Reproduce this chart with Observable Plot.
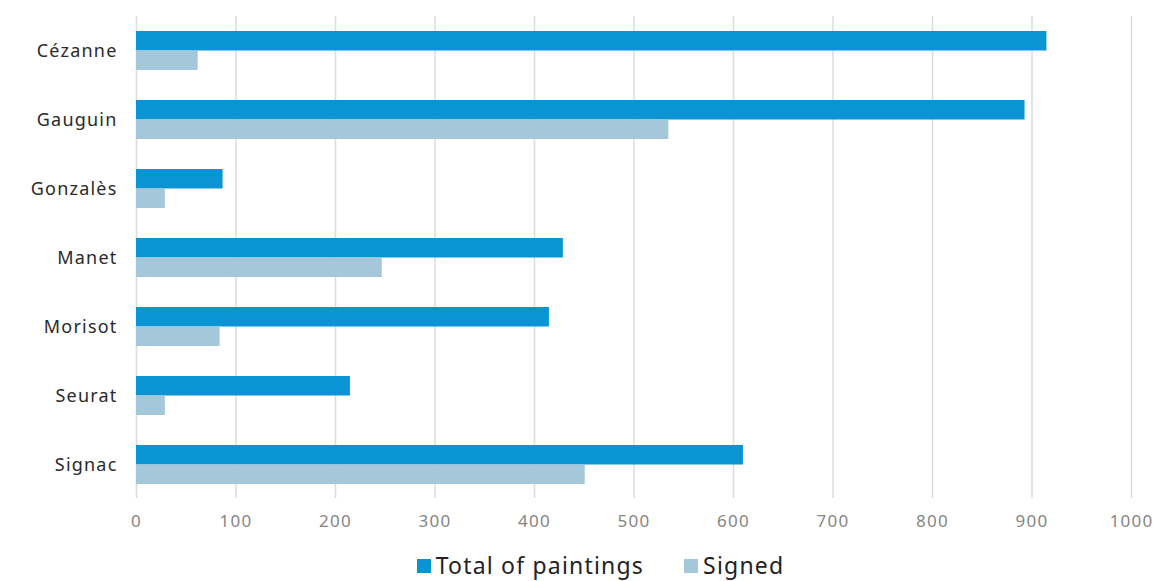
<!DOCTYPE html>
<html>
<head>
<meta charset="utf-8">
<script src="https://cdn.jsdelivr.net/npm/d3@7"></script>
<script src="https://cdn.jsdelivr.net/npm/@observablehq/plot@0.6"></script>
<style>
  html, body { margin: 0; padding: 0; background: #fff; overflow: hidden; }
  #chart { width: 1168px; }
  .legend { box-sizing: border-box; width: 1168px; display: flex; justify-content: center; align-items: center; gap: 40px; font-family: "Noto Sans", sans-serif; font-size: 23px; line-height: 1; letter-spacing: 1.2px; color: #222; height: 41px; padding-top: 10px; padding-left: 33px; }
  .legend span.sw { display: inline-block; width: 14px; height: 14px; margin-right: 5px; }
  .legend .item { display: flex; align-items: center; }
  svg text { letter-spacing: 1.2px; }
</style>
</head>
<body>
<div id="chart"></div>
<script>
const artists = ["Cézanne", "Gauguin", "Gonzalès", "Manet", "Morisot", "Seurat", "Signac"];
const totalPaintings = [915, 893, 87, 429, 415, 215, 610];
const signedPaintings = [62, 535, 29, 247, 84, 29, 451];
const seriesNames = ["Total of paintings", "Signed"];
const seriesColors = ["#0B94D3", "#A4C8DA"];
const xTicks = [0, 100, 200, 300, 400, 500, 600, 700, 800, 900, 1000];

const totalData = artists.map((a, i) => ({artist: a, value: totalPaintings[i]}));
const signedData = artists.map((a, i) => ({artist: a, value: signedPaintings[i]}));

const W = 1168, H = 540;
const bandHalf = 19.5;

const chart = Plot.plot({
  width: W,
  height: H,
  marginTop: 16,
  marginBottom: 42,
  marginLeft: 136,
  marginRight: 37,
  style: {fontFamily: "Noto Sans, sans-serif", background: "#fff"},
  x: {domain: [0, 1000], ticks: xTicks, label: null},
  y: {domain: artists, paddingInner: 0.435, paddingOuter: 0.21, label: null},
  marks: [
    Plot.ruleX(xTicks, {stroke: "#dcdcdc", strokeWidth: 1.5}),
    Plot.barX(totalData, {x: "value", y: "artist", fill: seriesColors[0], insetBottom: bandHalf}),
    Plot.barX(signedData, {x: "value", y: "artist", fill: seriesColors[1], insetTop: bandHalf}),
    Plot.axisX({ticks: xTicks, tickFormat: d => String(d), tickSize: 0, tickPadding: 16, fontSize: 17, color: "#858585", label: null}),
    Plot.axisY({tickSize: 0, tickPadding: 19, fontSize: 18, color: "#2a2a2a", label: null})
  ]
});
document.getElementById("chart").appendChild(chart);

const legend = document.createElement("div");
legend.className = "legend";
seriesNames.forEach((name, i) => {
  const item = document.createElement("div");
  item.className = "item";
  const sw = document.createElement("span");
  sw.className = "sw";
  sw.style.background = seriesColors[i];
  item.appendChild(sw);
  item.appendChild(document.createTextNode(name));
  legend.appendChild(item);
});
document.getElementById("chart").appendChild(legend);
</script>
</body>
</html>
